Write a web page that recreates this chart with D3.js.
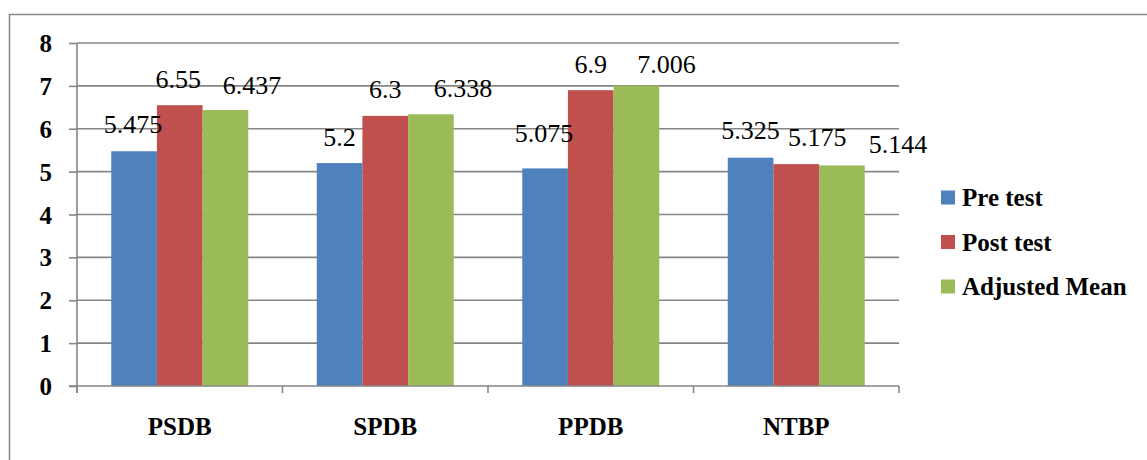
<!DOCTYPE html>
<html>
<head>
<meta charset="utf-8">
<script src="https://cdn.jsdelivr.net/npm/d3@7"></script>
<style>
html,body{margin:0;padding:0;background:#fff;}
svg{display:block;}
text{font-family:"Liberation Serif","Times New Roman",Tinos,"DejaVu Serif",serif;}
</style>
</head>
<body>
<svg id="chart" width="1147" height="460"></svg>
<script>
// ---- data ----
const categories = ["PSDB", "SPDB", "PPDB", "NTBP"];
const seriesNames = ["Pre test", "Post test", "Adjusted Mean"];
const preTest = [5.475, 5.2, 5.075, 5.325];
const postTest = [6.55, 6.3, 6.9, 5.175];
const adjustedMean = [6.437, 6.338, 7.006, 5.144];
const yTicks = [0, 1, 2, 3, 4, 5, 6, 7, 8];

// manual label nudges (px), per series per category, as placed in the original
const labelDx = [[-1, 0, -1, 0], [-1.5, 0, 0, 21], [26.6, 32, 30, 56]];
const labelDy = [[-18, -17, -26.7, -18.7], [-17.5, -18, -17, -18], [-16, -17.6, -12.3, -12]];

const seriesValues = [preTest, postTest, adjustedMean];
const colors = ["#4F81BD", "#C0504D", "#9BBB59"];

(function () {
const svg = d3.select("#chart");
const pLeft = 77, pRight = 899, pTop = 43, pBottom = 386;
const FONT = '"Liberation Serif", "Times New Roman", Tinos, "DejaVu Serif", serif';

// outer chart border
svg.append("rect")
  .attr("x", 9.5).attr("y", 14.5)
  .attr("width", 1200).attr("height", 500)
  .attr("fill", "none").attr("stroke", "#898989").attr("stroke-width", 1.5);

const x0 = d3.scaleBand().domain(categories).range([pLeft, pRight]).paddingInner(0).paddingOuter(0);
const x1 = d3.scaleBand().domain(seriesNames).range([0, x0.bandwidth()])
  .paddingInner(0).paddingOuter(0.75);
const y = d3.scaleLinear().domain([0, 8]).range([pBottom, pTop]);

// gridlines
svg.append("g").selectAll("line").data(yTicks.filter(d => d > 0)).join("line")
  .attr("x1", pLeft).attr("x2", pRight)
  .attr("y1", d => y(d)).attr("y2", d => y(d))
  .attr("stroke", "#868686").attr("stroke-width", 1.6);

// y axis
const yAxis = svg.append("g").attr("transform", `translate(${pLeft},0)`)
  .call(d3.axisLeft(y).tickValues(yTicks).tickSize(8).tickPadding(17).tickFormat(d3.format("d")));
yAxis.attr("font-family", null).attr("font-size", null);
yAxis.select(".domain").remove();
yAxis.selectAll(".tick line").attr("stroke", "#868686").attr("stroke-width", 1.6);
yAxis.selectAll(".tick text")
  .style("font-family", FONT)
  .style("font-weight", "bold").style("font-size", "25px").attr("fill", "#000")
  .attr("dy", "0.34em");

// bars
const groups = svg.append("g").selectAll("g").data(categories).join("g")
  .attr("transform", d => `translate(${x0(d)},0)`);
groups.selectAll("rect")
  .data((c, i) => seriesNames.map((s, j) => ({ s, j, v: seriesValues[j][i], i })))
  .join("rect")
  .attr("x", d => x1(d.s)).attr("width", x1.bandwidth())
  .attr("y", d => y(d.v)).attr("height", d => y(0) - y(d.v))
  .attr("fill", d => colors[d.j]);

// y axis line
svg.append("line").attr("x1", pLeft).attr("x2", pLeft).attr("y1", pTop).attr("y2", pBottom + 7)
  .attr("stroke", "#868686").attr("stroke-width", 1.6);

// x axis
svg.append("line").attr("x1", pLeft - 8).attr("x2", pRight)
  .attr("y1", pBottom).attr("y2", pBottom).attr("stroke", "#868686").attr("stroke-width", 1.6);
const boundaries = categories.map(c => x0(c)).concat([x0.range()[1]]);
svg.append("g").selectAll("line").data(boundaries).join("line")
  .attr("x1", d => d).attr("x2", d => d).attr("y1", pBottom).attr("y2", pBottom + 7)
  .attr("stroke", "#868686").attr("stroke-width", 1.6);

svg.append("g").selectAll("text").data(categories).join("text")
  .attr("x", d => x0(d) + x0.bandwidth() / 2).attr("y", 435)
  .attr("text-anchor", "middle")
  .style("font-family", FONT)
  .style("font-weight", "bold").style("font-size", "25px").attr("fill", "#000")
  .text(d => d);

// data labels
groups.selectAll("text.lbl")
  .data((c, i) => seriesNames.map((s, j) => ({ s, j, v: seriesValues[j][i], i })))
  .join("text").attr("class", "lbl")
  .attr("x", d => x1(d.s) + x1.bandwidth() / 2 + labelDx[d.j][d.i])
  .attr("y", d => y(d.v) + labelDy[d.j][d.i])
  .attr("text-anchor", "middle")
  .style("font-family", FONT)
  .style("font-size", "26px").attr("fill", "#000")
  .text(d => d.v);

// legend
const legend = svg.append("g").selectAll("g").data(seriesNames).join("g")
  .attr("transform", (d, i) => `translate(941,${197.5 + i * 44.5})`);
legend.append("rect").attr("x", 0).attr("y", -7).attr("width", 14).attr("height", 14)
  .attr("fill", (d, i) => colors[i]);
legend.append("text").attr("x", 21).attr("y", 0).attr("dy", "0.34em")
  .style("font-family", FONT)
  .style("font-weight", "bold").style("font-size", "25px").attr("fill", "#000")
  .text(d => d);
})();
</script>
</body>
</html>
